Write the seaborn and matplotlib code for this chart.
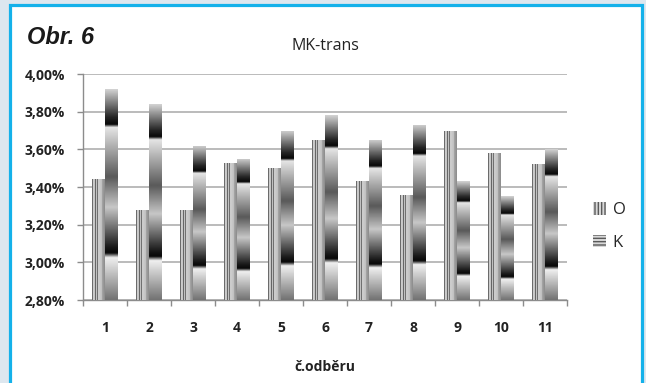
import numpy as np
import pandas as pd
import matplotlib
matplotlib.use("Agg")
import matplotlib.pyplot as plt
import seaborn as sns
from matplotlib.patches import Rectangle, Patch
from matplotlib.ticker import FuncFormatter, FixedLocator

# Sampling numbers (č. odběru) and measured MK-trans content in %
samples = [str(i) for i in range(1, 12)]
series_o = [3.44, 3.28, 3.28, 3.53, 3.50, 3.65, 3.43, 3.36, 3.70, 3.58, 3.52]
series_k = [3.92, 3.84, 3.62, 3.55, 3.70, 3.78, 3.65, 3.73, 3.43, 3.35, 3.60]
series_names = ["O", "K"]
y_ticks = [2.80, 3.00, 3.20, 3.40, 3.60, 3.80, 4.00]

df = pd.DataFrame({
    "odber": samples * 2,
    "hodnota": series_o + series_k,
    "serie": [series_names[0]] * len(samples) + [series_names[1]] * len(samples),
})

sns.set_theme(style="white")
plt.rcParams["font.family"] = ["Open Sans", "DejaVu Sans"]
plt.rcParams["hatch.linewidth"] = 1.0

W, H = 646, 383
fig = plt.figure(figsize=(W / 100, H / 100), dpi=100, facecolor="#dde7ef")

# white panel with a blue frame
fig.patches.append(Rectangle((9.5 / W, -0.05), (641.5 - 9.5) / W, 1 - 4.5 / H + 0.05,
                             transform=fig.transFigure, facecolor="white",
                             edgecolor="#14b1ea", linewidth=2.3, zorder=-5))

ax = fig.add_axes([83 / W, 1 - 300 / H, (567 - 83) / W, (300 - 74) / H])
ax.set_zorder(2)
ax.set_facecolor("none")

sns.barplot(data=df, x="odber", y="hodnota", hue="serie", palette=["#a0a0a0", "#909090"],
            width=0.6, gap=0.06, saturation=1, linewidth=0, legend=False, ax=ax, zorder=2)

ylo, yhi = y_ticks[0], y_ticks[-1]

# vertical stripe fill for series O
o_pattern = np.array([0.42, 0.80, 0.78, 0.40, 0.76, 0.44, 0.80, 0.80, 0.78, 0.76, 0.64, 0.60, 0.56])
# vertical gradient fill for series K (stretched along each bar)
t_stops = [0.0, 0.20, 0.222, 0.25, 0.44, 0.585, 0.82, 0.835, 0.87, 1.0]
v_stops = [0.45, 0.94, 0.03, 0.10, 0.78, 0.35, 0.90, 0.03, 0.15, 0.82]
tt = np.linspace(0, 1, 200)
k_profile = np.interp(tt, t_stops, v_stops)[:, None]

o_bars, k_bars = ax.containers
for bar in o_bars:
    x0, w = bar.get_x(), bar.get_width()
    top = bar.get_y() + bar.get_height()
    im = ax.imshow(o_pattern[None, :], extent=(x0, x0 + w, ylo, top), origin="lower",
                   aspect="auto", cmap="gray", vmin=0, vmax=1,
                   interpolation="bilinear", zorder=3)
    im.set_clip_path(bar)
for bar in k_bars:
    x0, w = bar.get_x(), bar.get_width()
    top = bar.get_y() + bar.get_height()
    im = ax.imshow(k_profile, extent=(x0, x0 + w, ylo, top), origin="lower",
                   aspect="auto", cmap="gray", vmin=0, vmax=1,
                   interpolation="bilinear", zorder=3)
    im.set_clip_path(bar)

ax.set_xlim(-0.5, len(samples) - 0.5)
ax.set_ylim(ylo, yhi)

# axes, grid and ticks
ax.set_axisbelow(True)
ax.yaxis.set_major_locator(FixedLocator(y_ticks))
ax.yaxis.set_major_formatter(FuncFormatter(lambda v, _: f"{v:.2f}%".replace(".", ",")))
ax.yaxis.grid(True, color="#a8a8a8", linewidth=1.1)
ax.xaxis.grid(False)
for side in ["top", "right"]:
    ax.spines[side].set_visible(False)
for side in ["left", "bottom"]:
    ax.spines[side].set_color("#8c8c8c")
    ax.spines[side].set_linewidth(1.0)

ax.set_xticks(np.arange(-0.5, len(samples)), minor=True)
ax.tick_params(axis="x", which="major", length=0, pad=15, labelsize=10, labelcolor="#222222")
ax.tick_params(axis="x", which="minor", bottom=True, length=4, width=1, color="#8c8c8c", direction="out")
ax.tick_params(axis="y", which="major", left=True, length=4, width=1, color="#8c8c8c",
               direction="out", pad=9, labelsize=10, labelcolor="#222222")
for lab in ax.get_xticklabels() + ax.get_yticklabels():
    lab.set_fontweight("bold")

ax.set_xlabel("č.odběru", fontsize=10, fontweight="bold", color="#222222", labelpad=18)
ax.set_ylabel("")
ax.set_title("MK-trans", fontsize=11.5, color="#222222", pad=17)

fig.text(27 / W, 1 - 37 / H, "Obr. 6", family=["Liberation Sans", "DejaVu Sans"],
         fontweight="bold", fontstyle="italic", fontsize=17, color="#1a1a1a", va="center")

handles = [
    Patch(facecolor="#d8d8d8", edgecolor="#5a5a5a", hatch="|||||", linewidth=0, label=series_names[0]),
    Patch(facecolor="#d8d8d8", edgecolor="#5a5a5a", hatch="-----", linewidth=0, label=series_names[1]),
]
ax.legend(handles=handles, loc="upper left", bbox_to_anchor=(585 / W, 1 - 194 / H),
          bbox_transform=fig.transFigure, frameon=False, handlelength=0.75,
          handleheight=0.75, labelspacing=1.0, handletextpad=0.4, borderpad=0,
          prop={"size": 12})

fig.savefig("out.png", dpi=100, facecolor=fig.get_facecolor())
